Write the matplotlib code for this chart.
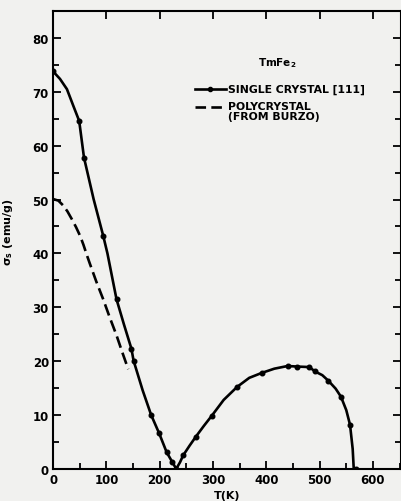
import numpy as np
import matplotlib.pyplot as plt
from matplotlib.ticker import MultipleLocator

# single crystal [111] - traced curve
t_single = [0, 13, 26, 38, 49, 58, 76, 94, 102, 119, 133, 147, 151, 168, 184, 199,
            213, 224, 231, 238, 244, 256, 268, 283, 298, 320, 345, 368, 391, 415,
            440, 457, 481, 491, 505, 516, 530, 540, 550, 557, 562, 564, 568]
s_single = [73.8, 72.4, 70.5, 67.4, 64.6, 57.8, 50.1, 43.3, 40.0, 31.5, 26.8, 22.3,
            20.1, 14.6, 10.0, 6.6, 3.1, 1.2, 0.0, 1.2, 2.5, 4.3, 6.0, 8.0, 9.9, 12.8,
            15.2, 16.9, 17.8, 18.6, 19.1, 19.0, 18.9, 18.1, 17.4, 16.4, 14.9, 13.4,
            10.9, 8.2, 3.7, 0.0, 0.0]
# measured points (markers)
t_meas = [0, 49, 58, 94, 119, 147, 151, 184, 199, 213, 224, 231, 244, 268, 298,
          345, 391, 440, 457, 481, 491, 516, 540, 557, 568]
s_meas = [73.8, 64.6, 57.8, 43.3, 31.5, 22.3, 20.1, 10.0, 6.6, 3.1, 1.2, 0.0, 2.5,
          6.0, 9.9, 15.2, 17.8, 19.1, 19.0, 18.9, 18.1, 16.4, 13.4, 8.2, 0.0]

# polycrystal (from Burzo)
t_poly = [0, 10, 19, 27, 35, 43, 51, 57, 63, 69, 81, 94, 106, 119, 130, 141]
s_poly = [50.1, 49.8, 48.9, 47.8, 46.4, 44.9, 43.2, 41.6, 39.8, 38.1, 34.8, 31.5,
          28.2, 24.8, 21.6, 18.5]

bg = '#f1f1ef'
fig = plt.figure(figsize=(4.02, 5.02), dpi=100, facecolor=bg)
ax = fig.add_axes([0.132, 0.064, 0.866, 0.912], facecolor=bg)

ax.plot(t_single, s_single, color='black', lw=1.9, solid_joinstyle='round')
ax.plot(t_meas, s_meas, 'o', color='black', ms=3.3)
ax.plot(t_poly, s_poly, color='black', lw=1.9, dashes=(4.5, 2))

ax.set_xlim(0, 653)
ax.set_ylim(0, 85)
ax.xaxis.set_major_locator(MultipleLocator(100))
ax.xaxis.set_minor_locator(MultipleLocator(50))
ax.yaxis.set_major_locator(MultipleLocator(10))
ax.yaxis.set_minor_locator(MultipleLocator(5))
ax.tick_params(which='both', direction='in', top=True, right=True, width=1.3)
ax.tick_params(which='major', length=6, labelsize=8.5, pad=3)
ax.tick_params(which='minor', length=4)
ax.tick_params(axis='x', which='minor', top=False)
for lab in ax.get_xticklabels() + ax.get_yticklabels():
    lab.set_fontweight('heavy')
for sp in ax.spines.values():
    sp.set_linewidth(1.5)

ax.set_xlabel('T(K)', fontsize=8, fontweight='heavy', labelpad=3)
ax.set_ylabel(r'$\mathbf{\sigma_s}$ (emu/g)', fontsize=8, fontweight='heavy')
ax.yaxis.set_label_coords(-0.11, 0.52)

# hand-drawn legend
ax.text(0.644, 0.889, r'TmFe$_\mathbf{2}$', transform=ax.transAxes, fontsize=7.5,
        fontweight='heavy', ha='center', va='center')
ax.plot([0.408, 0.497], [0.830, 0.830], transform=ax.transAxes, color='black', lw=1.9)
ax.plot([0.452], [0.830], 'o', transform=ax.transAxes, color='black', ms=3)
ax.text(0.503, 0.830, 'SINGLE CRYSTAL [111]', transform=ax.transAxes, fontsize=7.8,
        fontweight='heavy', va='center')
ax.plot([0.408, 0.497], [0.790, 0.790], transform=ax.transAxes, color='black', lw=1.9,
        dashes=(4, 2))
ax.text(0.503, 0.803, 'POLYCRYSTAL\n(FROM BURZO)', transform=ax.transAxes, fontsize=7.8,
        fontweight='heavy', va='top', linespacing=0.95)

fig.savefig('out.png', dpi=100, facecolor=bg)
